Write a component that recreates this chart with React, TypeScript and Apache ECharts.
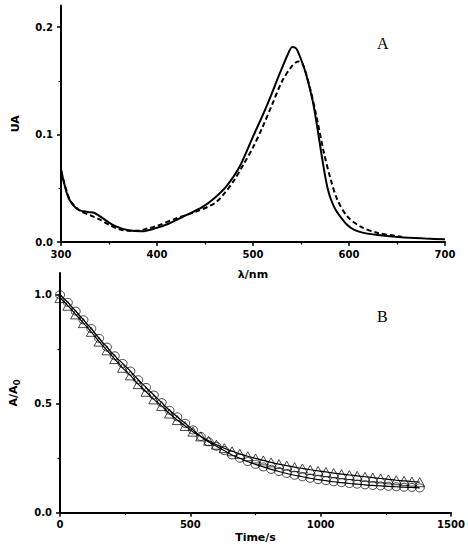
import { useEffect, useRef } from 'react'
import * as echarts from 'echarts'

// Panel A: absorption spectra (wavelength in nm, absorbance)
const solidWl = [300, 304, 309, 318, 328, 335, 346, 356, 370, 384, 398, 412, 427, 448, 460, 472, 486, 500, 514, 528, 536, 541, 545, 550, 555, 562, 566, 569, 572, 575, 578, 581, 586, 591, 598, 605, 615, 630, 654, 680, 700]
const solidAbs = [0.068, 0.052, 0.039, 0.030, 0.028, 0.027, 0.0205, 0.015, 0.011, 0.010, 0.0127, 0.017, 0.0235, 0.033, 0.041, 0.0515, 0.070, 0.098, 0.126, 0.157, 0.174, 0.1815, 0.180, 0.170, 0.157, 0.132, 0.112, 0.095, 0.078, 0.062, 0.049, 0.040, 0.030, 0.0236, 0.016, 0.0115, 0.0085, 0.0065, 0.0044, 0.0032, 0.0025]

const dashWl = [300, 305, 310, 320, 330, 340, 350, 360, 370, 380, 390, 400, 420, 440, 460, 470, 480, 490, 500, 510, 520, 530, 540, 547, 552, 560, 567, 574, 581, 588, 598, 612, 630, 655]
const dashAbs = [0.066, 0.05, 0.038, 0.029, 0.025, 0.021, 0.016, 0.012, 0.0105, 0.0105, 0.0125, 0.015, 0.022, 0.028, 0.036, 0.045, 0.057, 0.072, 0.088, 0.107, 0.128, 0.149, 0.163, 0.168, 0.165, 0.141, 0.113, 0.0825, 0.058, 0.039, 0.024, 0.0143, 0.0084, 0.005]

// Panel B: normalised absorbance vs time (s)
const timeS = [0, 30, 60, 90, 120, 150, 180, 210, 240, 270, 300, 330, 360, 390, 420, 450, 480, 510, 540, 570, 600, 630, 660, 690, 720, 750, 780, 810, 840, 870, 900, 930, 960, 990, 1020, 1050, 1080, 1110, 1140, 1170, 1200, 1230, 1260, 1290, 1320, 1350, 1380]
const circleVals = [1.00, 0.965, 0.925, 0.885, 0.845, 0.80, 0.76, 0.72, 0.685, 0.65, 0.61, 0.575, 0.54, 0.505, 0.47, 0.44, 0.41, 0.38, 0.35, 0.325, 0.305, 0.285, 0.265, 0.25, 0.235, 0.222, 0.21, 0.199, 0.189, 0.18, 0.172, 0.165, 0.158, 0.152, 0.147, 0.142, 0.138, 0.134, 0.131, 0.128, 0.125, 0.123, 0.121, 0.119, 0.117, 0.116, 0.114]
const triangleVals = [0.985, 0.95, 0.91, 0.87, 0.83, 0.785, 0.745, 0.705, 0.665, 0.63, 0.59, 0.555, 0.52, 0.49, 0.455, 0.425, 0.398, 0.372, 0.35, 0.33, 0.312, 0.296, 0.282, 0.27, 0.259, 0.249, 0.24, 0.231, 0.223, 0.216, 0.209, 0.203, 0.197, 0.192, 0.187, 0.182, 0.177, 0.173, 0.169, 0.165, 0.161, 0.157, 0.153, 0.149, 0.146, 0.143, 0.14]

const topYLabels = [0, 0.1, 0.2]
const topYMinor = [0.05, 0.15]
const botYLabels = [0, 0.5, 1.0]
const botYMinor = [0.25, 0.75]

const zip = (xs: number[], ys: number[]) => xs.map((x, i) => [x, ys[i]])

const tickFont = {
  color: '#000',
  fontFamily: 'DejaVu Sans',
  fontWeight: 'bold' as const,
  fontSize: 10
}
const nameFont = {
  color: '#000',
  fontFamily: 'DejaVu Sans',
  fontWeight: 'bold' as const,
  fontSize: 11
}
const axisLine = { show: true, onZero: false, lineStyle: { color: '#000', width: 2 } }
const majorTick = { color: '#000', width: 1.5 }
const minorTickStyle = { color: '#000', width: 1.2 }

export default function App() {
  const chartRef = useRef<HTMLDivElement>(null)

  useEffect(() => {
    if (!chartRef.current) return
    const chart = echarts.init(chartRef.current, null, { renderer: 'svg' })

    const option = {
      animation: false,
      backgroundColor: '#fff',
      grid: [
        { left: 61, right: 23, top: 5.5, height: 236.5 },
        { left: 60, right: 17, top: 273, height: 239.7 }
      ],
      xAxis: [
        {
          type: 'value', gridIndex: 0, min: 300, max: 700, interval: 100,
          name: 'λ/nm', nameLocation: 'middle', nameGap: 27, nameTextStyle: nameFont,
          axisLine,
          axisTick: { show: true, length: 4, lineStyle: majorTick },
          minorTick: { show: true, splitNumber: 2, length: 2.5, lineStyle: minorTickStyle },
          axisLabel: { ...tickFont, margin: 7, formatter: (v: number) => String(v) },
          splitLine: { show: false }
        },
        {
          type: 'value', gridIndex: 1, min: 0, max: 1500, interval: 500,
          name: 'Time/s', nameLocation: 'middle', nameGap: 19, nameTextStyle: nameFont,
          axisLine,
          axisTick: { show: true, length: 4, lineStyle: majorTick },
          minorTick: { show: true, splitNumber: 2, length: 2.5, lineStyle: minorTickStyle },
          axisLabel: { ...tickFont, margin: 7, formatter: (v: number) => String(v) },
          splitLine: { show: false }
        }
      ],
      yAxis: [
        {
          type: 'value', gridIndex: 0, min: 0, max: 0.22, position: 'left',
          name: 'UA', nameLocation: 'middle', nameGap: 40, nameRotate: 90, nameTextStyle: nameFont,
          axisLine,
          axisTick: { show: true, length: 4, customValues: topYLabels, lineStyle: majorTick },
          axisLabel: { ...tickFont, margin: 8, customValues: topYLabels, formatter: (v: number) => v.toFixed(1) },
          splitLine: { show: false }
        },
        {
          type: 'value', gridIndex: 0, min: 0, max: 0.22, position: 'left',
          axisLine: { show: false },
          axisTick: { show: true, length: 2.5, customValues: topYMinor, lineStyle: minorTickStyle },
          axisLabel: { show: false },
          splitLine: { show: false }
        },
        {
          type: 'value', gridIndex: 1, min: 0, max: 1.1, position: 'left',
          name: 'A/A{sub|0}', nameLocation: 'middle', nameGap: 39, nameRotate: 90,
          nameTextStyle: { ...nameFont, rich: { sub: { ...nameFont, fontSize: 9, verticalAlign: 'bottom', padding: [6, 0, 0, 0] } } },
          axisLine,
          axisTick: { show: true, length: 4, customValues: botYLabels, lineStyle: majorTick },
          axisLabel: { ...tickFont, margin: 8, customValues: botYLabels, formatter: (v: number) => v.toFixed(1) },
          splitLine: { show: false }
        },
        {
          type: 'value', gridIndex: 1, min: 0, max: 1.1, position: 'left',
          axisLine: { show: false },
          axisTick: { show: true, length: 2.5, customValues: botYMinor, lineStyle: minorTickStyle },
          axisLabel: { show: false },
          splitLine: { show: false }
        }
      ],
      graphic: [
        { type: 'text', left: 377, top: 35, style: { text: 'A', font: '16px "Liberation Serif"', fill: '#000' } },
        { type: 'text', left: 377, top: 308, style: { text: 'B', font: '16px "Liberation Serif"', fill: '#000' } }
      ],
      series: [
        {
          type: 'line', xAxisIndex: 0, yAxisIndex: 0, data: zip(solidWl, solidAbs),
          smooth: 0.3, showSymbol: false, lineStyle: { color: '#000', width: 2 }
        },
        {
          type: 'line', xAxisIndex: 0, yAxisIndex: 0, data: zip(dashWl, dashAbs),
          smooth: 0.3, showSymbol: false, lineStyle: { color: '#000', width: 2, type: [5, 3] }
        },
        {
          type: 'line', xAxisIndex: 1, yAxisIndex: 2, data: zip(timeS, circleVals),
          smooth: 0.4, showSymbol: false, lineStyle: { color: '#000', width: 1.2 }
        },
        {
          type: 'line', xAxisIndex: 1, yAxisIndex: 2, data: zip(timeS, triangleVals),
          smooth: 0.4, showSymbol: false, lineStyle: { color: '#000', width: 1.2 }
        },
        {
          type: 'scatter', xAxisIndex: 1, yAxisIndex: 2, data: zip(timeS, circleVals),
          symbol: 'circle', symbolSize: [9, 8],
          itemStyle: { color: 'rgba(0,0,0,0)', borderColor: '#000', borderWidth: 0.9 }
        },
        {
          type: 'scatter', xAxisIndex: 1, yAxisIndex: 2, data: zip(timeS, triangleVals),
          symbol: 'triangle', symbolSize: [10, 9],
          itemStyle: { color: 'rgba(0,0,0,0)', borderColor: '#000', borderWidth: 0.9 }
        }
      ]
    }

    chart.setOption(option)
    return () => {
      chart.dispose()
    }
  }, [])

  return (
    <div
      ref={chartRef}
      style={{ position: 'fixed', left: 0, top: 0, width: 468, height: 550 }}
    />
  )
}
